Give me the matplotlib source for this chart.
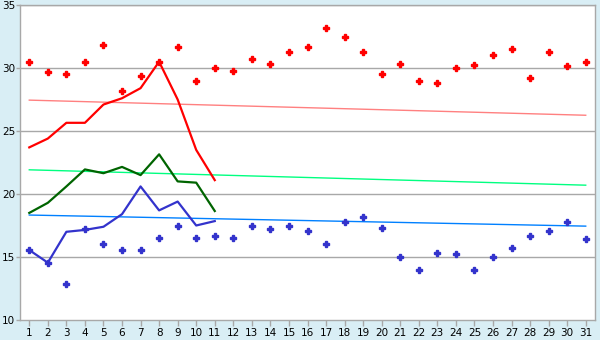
import matplotlib
matplotlib.use("Agg")
import matplotlib.pyplot as plt
import numpy as np

days = list(range(1, 32))

# daily max / min scatter
max_pts = [30.5, 29.7, 29.5, 30.45, 31.8, 28.2, 29.4, 30.5, 31.7, 28.95,
           30.0, 29.8, 30.7, 30.3, 31.25, 31.7, 33.2, 32.5, 31.3, 29.5,
           30.3, 28.95, 28.8, 30.0, 30.2, 31.0, 31.5, 29.2, 31.3, 30.15, 30.5]
min_pts = [15.55, 14.55, 12.85, 17.2, 16.0, 15.55, 15.55, 16.5, 17.45, 16.5,
           16.7, 16.5, 17.5, 17.2, 17.45, 17.05, 16.0, 17.75, 18.15, 17.3,
           15.0, 14.0, 15.3, 15.2, 14.0, 15.0, 15.7, 16.7, 17.05, 17.75, 16.4]

# current month lines (days 1-11)
line_days = list(range(1, 12))
max_line = [23.7, 24.4, 25.65, 25.65, 27.1, 27.6, 28.4, 30.5, 27.5, 23.5, 21.1]
mean_line = [18.5, 19.3, 20.6, 21.95, 21.65, 22.15, 21.5, 23.15, 21.0, 20.9, 18.65]
min_line = [15.55, 14.55, 17.0, 17.15, 17.4, 18.4, 20.6, 18.7, 19.4, 17.5, 17.85]

# trend lines (start, end)
trend_max = [27.45, 26.25]
trend_mean = [21.92, 20.7]
trend_min = [18.33, 17.45]

bg = "#d9eef5"
grid = "#a8a8a8"

fig = plt.figure(figsize=(6, 3.4), dpi=100, facecolor=bg)
ax = fig.add_axes([20/600, 20/340, 575/600, 315/340])
ax.set_facecolor("white")

for y in [15, 20, 25, 30, 35]:
    ax.axhline(y, color=grid, lw=1, zorder=1)

ends = [days[0], days[-1]]
ax.plot(ends, trend_max, color="#ff8080", lw=1, zorder=2)
ax.plot(ends, trend_mean, color="#00ff80", lw=1, zorder=2)
ax.plot(ends, trend_min, color="#0080ff", lw=1, zorder=2)

ax.plot(line_days, max_line, color="#ff0000", lw=1.6, zorder=3)
ax.plot(line_days, mean_line, color="#006400", lw=1.6, zorder=3)
ax.plot(line_days, min_line, color="#3333cc", lw=1.6, zorder=3)

ax.plot(days, max_pts, ls="none", marker="P", ms=5, color="#ff0000",
        mec="#ff0000", zorder=4)
ax.plot(days, min_pts, ls="none", marker="P", ms=5, color="#3333cc",
        mec="#3333cc", zorder=4)

ax.set_xlim(0.5, 31.5)
ax.set_ylim(10, 35)
ax.set_xticks(days)
ax.set_yticks([10, 15, 20, 25, 30, 35])
ax.tick_params(axis="both", colors="#000000", labelsize=7.5, width=1)
ax.tick_params(axis="x", color=grid, length=4, pad=1.5)
ax.tick_params(axis="y", color=grid, length=3, pad=0.5)

for s in ax.spines.values():
    s.set_color(grid)
    s.set_linewidth(1)

fig.savefig("out.png", dpi=100, facecolor=bg)
